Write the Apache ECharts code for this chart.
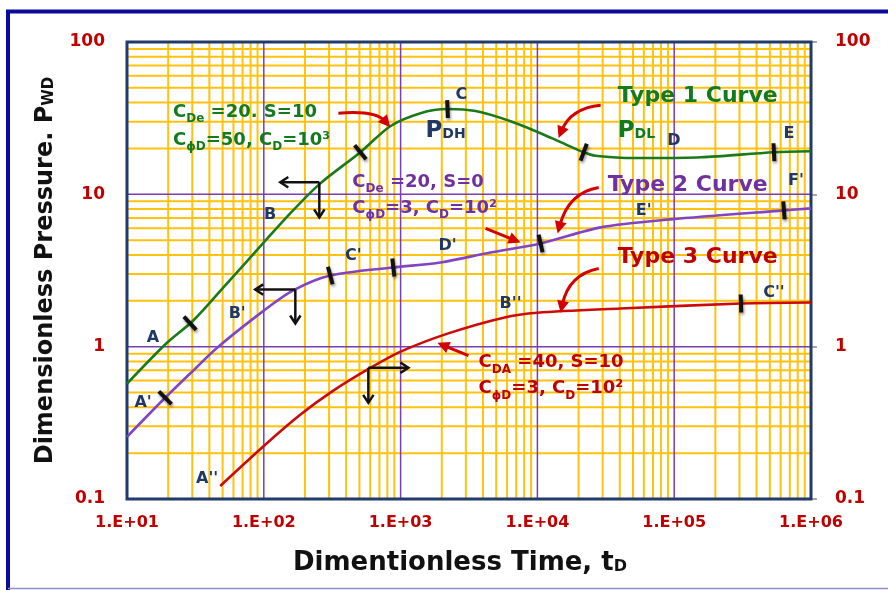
<!DOCTYPE html>
<html>
<head>
<meta charset="utf-8">
<script src="https://cdn.jsdelivr.net/npm/echarts@6/dist/echarts.min.js"></script>
<style>
  html, body { margin: 0; padding: 0; background: #ffffff; }
  #chart { width: 888px; height: 590px; }
</style>
</head>
<body>
<div id="chart"></div>
<script>
// Dimensionless time tD and dimensionless pressure PwD along each type curve
const type1T = [10, 19.6, 30.4, 50.5, 100, 156, 259, 508, 841, 1397, 2203, 3532, 6368, 10550, 14780, 21790, 26680, 40600, 67400, 156700, 535800, 1000000];
const type1P = [0.571, 1.06, 1.48, 2.44, 4.83, 7.5, 11.8, 18.9, 28.0, 34.1, 36.3, 35.2, 30.2, 25.2, 22.0, 18.9, 17.9, 17.4, 17.3, 17.5, 18.9, 19.2];
const type2T = [10, 19.0, 30.4, 45.6, 100, 164, 306, 885, 1954, 4540, 10550, 29000, 94400, 634000, 1000000];
const type2P = [0.256, 0.462, 0.695, 0.985, 1.725, 2.34, 2.93, 3.31, 3.57, 4.15, 4.76, 6.07, 6.85, 7.85, 8.09];
const type3T = [48.0, 100, 184.5, 322, 571, 1000, 2203, 5660, 10020, 40600, 307600, 1000000];
const type3P = [0.1218, 0.223, 0.357, 0.514, 0.706, 0.927, 1.218, 1.55, 1.67, 1.78, 1.92, 1.95];

// Flow-period boundaries marked on each curve (tD)
const type1Marks = [28.9, 508, 2203, 21790, 535800];
const type2Marks = [19.0, 306, 885, 10550, 634000];
const type3Marks = [307600];

// Axis ranges and tick labels
const X_MIN = 10, X_MAX = 1000000, Y_MIN = 0.1, Y_MAX = 100;
const xTickLabels = ['1.E+01', '1.E+02', '1.E+03', '1.E+04', '1.E+05', '1.E+06'];
const yTickLabels = ['0.1', '1', '10', '100'];

// Elbow arrows: corner point, horizontal arrow end (tD), vertical arrow end (PwD)
const elbowCorners = [[254.6, 12.0], [170, 2.37], [581, 0.727]];
const elbowTEnd = [132, 86.5, 1140];
const elbowPEnd = [7.06, 1.42, 0.428];

// Pointer arrows: tail, bend and head points in (tD, PwD)
const pointerTail = [[351, 34.1], [29000, 38.5], [28060, 11.1], [4180, 5.98], [28060, 3.26], [3133, 0.873]];
const pointerBend = [[655, 35.7], [17500, 36.8], [16900, 10.3], [5600, 5.37], [16900, 2.98], [2410, 0.96]];
const pointerHead = [[841, 27.6], [14290, 23.4], [14060, 5.54], [7530, 4.83], [14780, 1.67], [1858, 1.06]];

const GREEN = '#147A1E', PURPLE = '#7030A0', RED = '#C00000', NAVY = '#1F3864';
const FONT = '"DejaVu Sans"';

// Annotation text anchored in (tD, PwD)
const notes = [
  { text: '{m|C}{s|De}{m| =20. S=10}', t: 21.7, p: 34.6, color: GREEN, align: 'left' },
  { text: '{m|C}{s|\u03d5D}{m|=50, C}{s|D}{m|=10\u00b3}', t: 21.7, p: 22.7, color: GREEN, align: 'left' },
  { text: '{t|Type 1 Curve}', t: 38650, p: 44.2, color: GREEN, align: 'left' },
  { text: '{p|P}{q|DL}', t: 38650, p: 26.0, color: GREEN, align: 'left' },
  { text: '{p|P}{q|DH}', t: 1521, p: 26.0, color: NAVY, align: 'left' },
  { text: '{n|C}', t: 2787, p: 44.8, color: NAVY, align: 'center' },
  { text: '{n|D}', t: 99300, p: 22.3, color: NAVY, align: 'center' },
  { text: '{n|E}', t: 690000, p: 24.8, color: NAVY, align: 'center' },
  { text: '{n|B}', t: 111, p: 7.28, color: NAVY, align: 'center' },
  { text: '{n|A}', t: 15.5, p: 1.146, color: NAVY, align: 'center' },
  { text: '{t|Type 2 Curve}', t: 32660, p: 11.5, color: PURPLE, align: 'left' },
  { text: '{m|C}{s|De}{m| =20, S=0}', t: 444, p: 12.0, color: PURPLE, align: 'left' },
  { text: '{m|C}{s|\u03d5D}{m|=3, C}{s|D}{m|=10\u00b2}', t: 444, p: 8.09, color: PURPLE, align: 'left' },
  { text: "{n|F'}", t: 776000, p: 12.2, color: NAVY, align: 'center' },
  { text: "{n|E'}", t: 59800, p: 7.85, color: NAVY, align: 'center' },
  { text: "{n|D'}", t: 2203, p: 4.62, color: NAVY, align: 'center' },
  { text: "{n|C'}", t: 451, p: 3.97, color: NAVY, align: 'center' },
  { text: "{n|B'}", t: 63.9, p: 1.65, color: NAVY, align: 'center' },
  { text: "{n|A'}", t: 13.1, p: 0.428, color: NAVY, align: 'center' },
  { text: '{t|Type 3 Curve}', t: 38650, p: 3.85, color: RED, align: 'left' },
  { text: '{m|C}{s|DA}{m| =40, S=10}', t: 3715, p: 0.785, color: RED, align: 'left' },
  { text: '{m|C}{s|\u03d5D}{m|=3, C}{s|D}{m|=10\u00b2}', t: 3715, p: 0.529, color: RED, align: 'left' },
  { text: "{n|A''}", t: 38.5, p: 0.1354, color: NAVY, align: 'center' },
  { text: "{n|B''}", t: 6368, p: 1.92, color: NAVY, align: 'center' },
  { text: "{n|C''}", t: 535800, p: 2.27, color: NAVY, align: 'center' }
];

// Log-paper grid: minor lines at 2..9 of each decade, major lines at decades
const gridLines = [];
[10, 100, 1000, 10000, 100000].forEach(d => {
  for (let k = 2; k <= 9; k++) gridLines.push({ dir: 'v', v: d * k, major: false });
});
[0.1, 1, 10].forEach(d => {
  for (let k = 2; k <= 9; k++) gridLines.push({ dir: 'h', v: +(d * k).toPrecision(3), major: false });
});
[100, 1000, 10000, 100000].forEach(v => gridLines.push({ dir: 'v', v: v, major: true }));
[1, 10].forEach(v => gridLines.push({ dir: 'h', v: v, major: true }));

function richStyles(color) {
  const f = (size) => 'bold ' + size + 'px ' + FONT;
  return {
    m: { font: f(18), fill: color, lineHeight: 20 },
    s: { font: f(12), fill: color, lineHeight: 12, padding: [14, 0, 0, 0] },
    t: { font: f(22), fill: color, lineHeight: 24 },
    p: { font: f(23), fill: color, lineHeight: 24 },
    q: { font: f(14), fill: color, lineHeight: 14, padding: [7, 0, 0, 0] },
    n: { font: f(16), fill: color, lineHeight: 18 }
  };
}

// PwD on a curve at time t, interpolated in log-log space
function curveAt(T, P, t) {
  const lt = Math.log10(t);
  if (lt <= Math.log10(T[0])) return P[0];
  for (let i = 0; i < T.length - 1; i++) {
    const a = Math.log10(T[i]), b = Math.log10(T[i + 1]);
    if (lt >= a && lt <= b) {
      const f = (lt - a) / (b - a);
      return Math.pow(10, Math.log10(P[i]) + f * (Math.log10(P[i + 1]) - Math.log10(P[i])));
    }
  }
  return P[P.length - 1];
}

const curves = [[type1T, type1P], [type2T, type2P], [type3T, type3P]];
const marks = [];
[type1Marks, type2Marks, type3Marks].forEach((list, ci) => {
  list.forEach(t => marks.push({ curve: ci, t: t }));
});

function unit(dx, dy) {
  const len = Math.hypot(dx, dy) || 1;
  return [dx / len, dy / len];
}

function openHead(tip, from, size) {
  const u = unit(tip[0] - from[0], tip[1] - from[1]);
  const n = [-u[1], u[0]];
  return [
    [tip[0] - u[0] * size + n[0] * size * 0.65, tip[1] - u[1] * size + n[1] * size * 0.65],
    [tip[0], tip[1]],
    [tip[0] - u[0] * size - n[0] * size * 0.65, tip[1] - u[1] * size - n[1] * size * 0.65]
  ];
}

function filledHead(tip, from, len, half) {
  const u = unit(tip[0] - from[0], tip[1] - from[1]);
  const n = [-u[1], u[0]];
  const bx = tip[0] - u[0] * len, by = tip[1] - u[1] * len;
  return [[tip[0], tip[1]], [bx + n[0] * half, by + n[1] * half], [bx - n[0] * half, by - n[1] * half]];
}

const lineSeries = (name, T, P, color, z) => ({
  name: name,
  type: 'line',
  data: T.map((t, i) => [t, P[i]]),
  showSymbol: false,
  smooth: 0.3,
  lineStyle: { color: color, width: 2.6 },
  z: z,
  silent: true
});

const chart = echarts.init(document.getElementById('chart'), null, { renderer: 'canvas' });

const option = {
  animation: false,
  backgroundColor: '#ffffff',
  grid: { left: 127, right: 77, top: 42, bottom: 91, containLabel: false, show: false },
  xAxis: {
    type: 'log',
    logBase: 10,
    min: X_MIN,
    max: X_MAX,
    axisLine: { show: false },
    axisTick: { show: false },
    splitLine: { show: false },
    minorSplitLine: { show: false },
    axisLabel: {
      margin: 16,
      color: '#C00000',
      fontFamily: 'DejaVu Sans',
      fontWeight: 'bold',
      fontSize: 16,
      formatter: v => xTickLabels[Math.round(Math.log10(v)) - 1]
    },
    name: '{a|Dimentionless Time, t}{b|D}',
    nameLocation: 'middle',
    nameGap: 50,
    nameTextStyle: {
      padding: [0, 18, 0, 0],
      rich: {
        a: { fontFamily: 'DejaVu Sans', fontWeight: 'bold', fontSize: 26, color: '#111111', lineHeight: 28 },
        b: { fontFamily: 'DejaVu Sans', fontWeight: 'bold', fontSize: 16, color: '#111111', lineHeight: 16, padding: [7, 0, 0, 0] }
      }
    }
  },
  yAxis: [
    {
      type: 'log',
      logBase: 10,
      min: Y_MIN,
      max: Y_MAX,
      position: 'left',
      axisLine: { show: false },
      axisTick: { show: false },
      splitLine: { show: false },
      axisLabel: {
        margin: 22,
        color: '#C00000',
        fontFamily: 'DejaVu Sans',
        fontWeight: 'bold',
        fontSize: 17,
        formatter: v => yTickLabels[Math.round(Math.log10(v)) + 1]
      },
      name: '{a|Dimensionless Pressure. P}{b|WD}',
      nameLocation: 'middle',
      nameGap: 68,
      nameRotate: 90,
      nameTextStyle: {
        rich: {
          a: { fontFamily: 'DejaVu Sans', fontWeight: 'bold', fontSize: 24, color: '#111111', lineHeight: 27 },
          b: { fontFamily: 'DejaVu Sans', fontWeight: 'bold', fontSize: 15, color: '#111111', lineHeight: 15, padding: [7, 0, 0, 0] }
        }
      }
    },
    {
      type: 'log',
      logBase: 10,
      min: Y_MIN,
      max: Y_MAX,
      position: 'right',
      axisLine: { show: false },
      axisTick: { show: true, length: 6, lineStyle: { color: '#8a8a8a', width: 1.5 } },
      splitLine: { show: false },
      axisLabel: {
        margin: 24,
        color: '#C00000',
        fontFamily: 'DejaVu Sans',
        fontWeight: 'bold',
        fontSize: 17,
        formatter: v => yTickLabels[Math.round(Math.log10(v)) + 1]
      }
    }
  ],
  graphic: [
    { type: 'line', shape: { x1: 6, y1: 11.5, x2: 888, y2: 11.5 }, style: { stroke: '#0A0A9C', lineWidth: 4 } },
    { type: 'line', shape: { x1: 8, y1: 10, x2: 8, y2: 590 }, style: { stroke: '#0A0A9C', lineWidth: 4 } },
    { type: 'line', shape: { x1: 8, y1: 588.5, x2: 888, y2: 588.5 }, style: { stroke: '#8E8ECC', lineWidth: 1.5 } }
  ],
  series: [
    {
      // log-paper grid
      type: 'custom',
      z: 1,
      silent: true,
      clip: false,
      data: gridLines.map(g => g.dir === 'v' ? [g.v, 1] : [100, g.v]),
      renderItem: (params, api) => {
        const g = gridLines[params.dataIndex];
        let a, b;
        if (g.dir === 'v') { a = api.coord([g.v, Y_MIN]); b = api.coord([g.v, Y_MAX]); }
        else { a = api.coord([X_MIN, g.v]); b = api.coord([X_MAX, g.v]); }
        return {
          type: 'line',
          z2: g.major ? 2 : 1,
          shape: { x1: a[0], y1: a[1], x2: b[0], y2: b[1] },
          style: { stroke: g.major ? '#7A3DB0' : '#FFC20E', lineWidth: g.major ? 1.5 : 2 }
        };
      }
    },
    {
      // plot-area frame
      type: 'custom',
      z: 2,
      silent: true,
      clip: false,
      data: [[X_MIN, Y_MIN]],
      renderItem: (params, api) => {
        const a = api.coord([X_MIN, Y_MAX]);
        const b = api.coord([X_MAX, Y_MIN]);
        return {
          type: 'rect',
          shape: { x: a[0], y: a[1], width: b[0] - a[0], height: b[1] - a[1] },
          style: { fill: null, stroke: '#203A6B', lineWidth: 3 }
        };
      }
    },
    lineSeries('Type 1 Curve', type1T, type1P, '#1A7A1A', 3),
    lineSeries('Type 2 Curve', type2T, type2P, '#8244C2', 3),
    lineSeries('Type 3 Curve', type3T, type3P, '#CC0A0A', 3),
    {
      // boundary marks across the curves
      type: 'custom',
      z: 4,
      silent: true,
      clip: false,
      data: marks.map(m => [m.t, curveAt(curves[m.curve][0], curves[m.curve][1], m.t)]),
      renderItem: (params, api) => {
        const m = marks[params.dataIndex];
        const T = curves[m.curve][0], P = curves[m.curve][1];
        const c = api.coord([m.t, curveAt(T, P, m.t)]);
        const t1 = m.t / 1.2, t2 = Math.min(m.t * 1.2, X_MAX);
        const c1 = api.coord([t1, curveAt(T, P, t1)]);
        const c2 = api.coord([t2, curveAt(T, P, t2)]);
        const u = unit(c2[0] - c1[0], c2[1] - c1[1]);
        const n = [-u[1], u[0]];
        const h = 9;
        return {
          type: 'line',
          shape: { x1: c[0] - n[0] * h, y1: c[1] - n[1] * h, x2: c[0] + n[0] * h, y2: c[1] + n[1] * h },
          style: {
            stroke: '#111111', lineWidth: 4,
            shadowBlur: 3, shadowColor: 'rgba(0,0,0,0.45)', shadowOffsetX: 1, shadowOffsetY: 2
          }
        };
      }
    },
    {
      // elbow arrows
      type: 'custom',
      z: 5,
      silent: true,
      clip: false,
      data: elbowCorners,
      renderItem: (params, api) => {
        const i = params.dataIndex;
        const c = api.coord(elbowCorners[i]);
        const h = api.coord([elbowTEnd[i], elbowCorners[i][1]]);
        const v = api.coord([elbowCorners[i][0], elbowPEnd[i]]);
        const st = { stroke: '#111111', lineWidth: 2.5, fill: null };
        return {
          type: 'group',
          children: [
            { type: 'line', shape: { x1: c[0], y1: c[1], x2: h[0], y2: h[1] }, style: st },
            { type: 'line', shape: { x1: c[0], y1: c[1], x2: v[0], y2: v[1] }, style: st },
            { type: 'polyline', shape: { points: openHead(h, c, 8) }, style: st },
            { type: 'polyline', shape: { points: openHead(v, c, 8) }, style: st }
          ]
        };
      }
    },
    {
      // pointer arrows towards the curves
      type: 'custom',
      z: 5,
      silent: true,
      clip: false,
      data: pointerTail,
      renderItem: (params, api) => {
        const i = params.dataIndex;
        const a = api.coord(pointerTail[i]);
        const m = api.coord(pointerBend[i]);
        const b = api.coord(pointerHead[i]);
        const u = unit(b[0] - m[0], b[1] - m[1]);
        const end = [b[0] - u[0] * 8, b[1] - u[1] * 8];
        return {
          type: 'group',
          children: [
            {
              type: 'bezierCurve',
              shape: { x1: a[0], y1: a[1], cpx1: m[0], cpy1: m[1], x2: end[0], y2: end[1] },
              style: { stroke: '#D40000', lineWidth: 3, fill: null }
            },
            {
              type: 'polygon',
              shape: { points: filledHead(b, m, 12, 6) },
              style: { fill: '#D40000' }
            }
          ]
        };
      }
    },
    {
      // annotation text
      type: 'custom',
      z: 6,
      silent: true,
      clip: false,
      data: notes.map(n => [n.t, n.p]),
      renderItem: (params, api) => {
        const n = notes[params.dataIndex];
        const c = api.coord([n.t, n.p]);
        return {
          type: 'text',
          x: c[0],
          y: c[1],
          style: {
            text: n.text,
            rich: richStyles(n.color),
            font: 'bold 18px ' + FONT,
            fill: n.color,
            align: n.align,
            verticalAlign: 'middle'
          }
        };
      }
    }
  ]
};

chart.setOption(option);
</script>
</body>
</html>
